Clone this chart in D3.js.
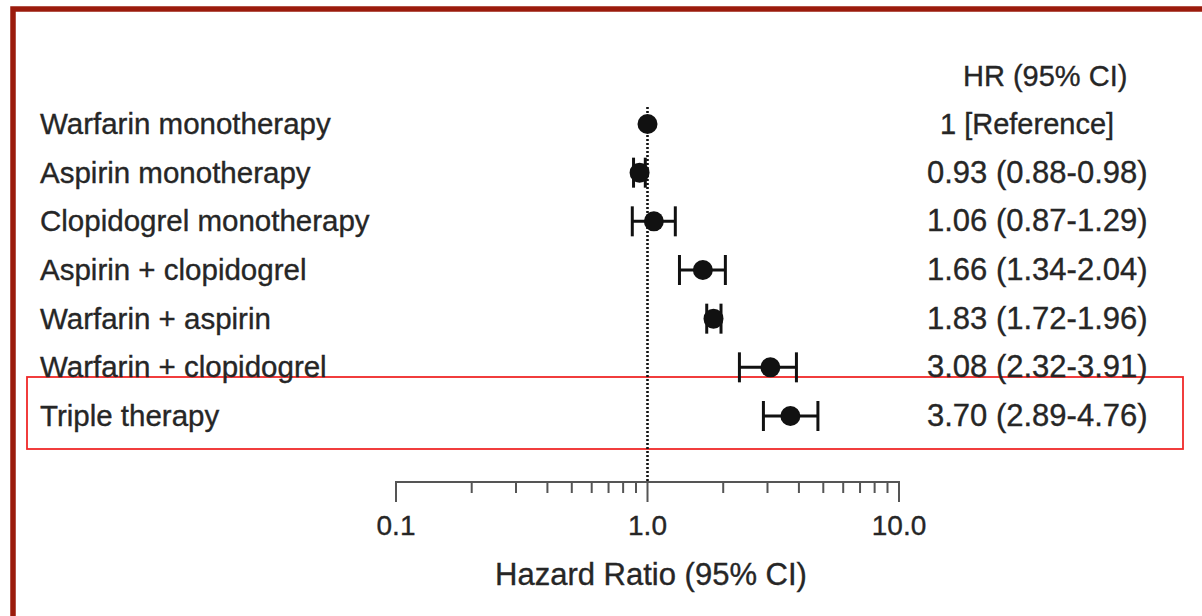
<!DOCTYPE html>
<html>
<head>
<meta charset="utf-8">
<script src="https://cdn.jsdelivr.net/npm/d3@7"></script>
<style>
  html, body { margin: 0; padding: 0; background: #fff; }
  svg text { font-family: "Liberation Sans", Arial, Helvetica, sans-serif; fill: #262626;
    stroke: #262626; stroke-width: 0.35px; }
</style>
</head>
<body>
<script>
// rows of the forest plot, top to bottom
var groups = ["Warfarin monotherapy", "Aspirin monotherapy", "Clopidogrel monotherapy",
  "Aspirin + clopidogrel", "Warfarin + aspirin", "Warfarin + clopidogrel", "Triple therapy"];
var hr    = [1, 0.93, 1.06, 1.66, 1.83, 3.08, 3.70];
var lower = [null, 0.88, 0.87, 1.34, 1.72, 2.32, 2.89];
var upper = [null, 0.98, 1.29, 2.04, 1.96, 3.91, 4.76];
var hrText = ["1 [Reference]", "0.93 (0.88-0.98)", "1.06 (0.87-1.29)", "1.66 (1.34-2.04)",
  "1.83 (1.72-1.96)", "3.08 (2.32-3.91)", "3.70 (2.89-4.76)"];
var majorTicks = [0.1, 1, 10];
var tickLabels = ["0.1", "1.0", "10.0"];
var minorTicks = [0.2, 0.3, 0.4, 0.5, 0.6, 0.7, 0.8, 0.9, 2, 3, 4, 5, 6, 7, 8, 9];
var highlighted = "Triple therapy";

var W = 1202, H = 616;
var svg = d3.select("body").append("svg").attr("width", W).attr("height", H);

var rows = groups.map(function(g, i){
  return {label: g, hr: hr[i], lo: lower[i], hi: upper[i], txt: hrText[i]};
});

var x = d3.scaleLog().domain([0.1, 10]).range([396, 899]);
var y = d3.scalePoint().domain(groups).range([124, 416]);
var axisY = 482;

// frame (dark red, only top and left visible)
svg.append("rect").attr("x", 13).attr("y", 9).attr("width", W + 20).attr("height", H + 20)
  .attr("fill", "none").attr("stroke", "#9b1b0c").attr("stroke-width", 5.5);

// highlight box around the last row
svg.append("rect")
  .attr("x", 27).attr("y", y(highlighted) - 39)
  .attr("width", 1156).attr("height", 72)
  .attr("fill", "none").attr("stroke", "#f02828").attr("stroke-width", 1.8);

// dotted reference line at HR = 1
svg.append("line")
  .attr("x1", x(1)).attr("x2", x(1))
  .attr("y1", 107).attr("y2", axisY)
  .attr("stroke", "#111").attr("stroke-width", 2.6)
  .attr("stroke-dasharray", "2,2");

// axis
var axis = svg.append("g").attr("class", "axis");
axis.append("line").attr("x1", x(0.1)).attr("x2", x(10))
  .attr("y1", axisY).attr("y2", axisY)
  .attr("stroke", "#555").attr("stroke-width", 2);
axis.selectAll("line.minor").data(minorTicks).enter().append("line")
  .attr("class", "minor")
  .attr("x1", function(d){ return x(d); }).attr("x2", function(d){ return x(d); })
  .attr("y1", axisY).attr("y2", axisY + 11)
  .attr("stroke", "#555").attr("stroke-width", 2);
axis.selectAll("line.major").data(majorTicks).enter().append("line")
  .attr("class", "major")
  .attr("x1", function(d){ return x(d); }).attr("x2", function(d){ return x(d); })
  .attr("y1", axisY - 1).attr("y2", axisY + 20)
  .attr("stroke", "#555").attr("stroke-width", 2);
axis.selectAll("text").data(majorTicks).enter().append("text")
  .attr("x", function(d){ return x(d); })
  .attr("y", axisY + 53)
  .attr("text-anchor", "middle")
  .attr("font-size", 28)
  .text(function(d, i){ return tickLabels[i]; });

svg.append("text")
  .attr("x", 651).attr("y", 585)
  .attr("text-anchor", "middle")
  .attr("font-size", 31)
  .text("Hazard Ratio (95% CI)");

// left labels
svg.selectAll("text.label").data(rows).enter().append("text")
  .attr("class", "label")
  .attr("x", 40)
  .attr("y", function(d){ return y(d.label) + 10; })
  .attr("font-size", 29.5)
  .text(function(d){ return d.label; });

// right column
svg.append("text")
  .attr("x", 963).attr("y", 86)
  .attr("font-size", 29)
  .text("HR (95% CI)");
svg.selectAll("text.hr").data(rows).enter().append("text")
  .attr("class", "hr")
  .attr("x", function(d){ return d.lo == null ? 940 : 927; })
  .attr("y", function(d){ return y(d.label) + 10; })
  .attr("font-size", function(d){ return d.lo == null ? 29 : 31; })
  .text(function(d){ return d.txt; });

// CI bars
var ci = svg.selectAll("g.ci").data(rows.filter(function(d){ return d.lo != null; }))
  .enter().append("g").attr("class", "ci");
ci.append("line")
  .attr("x1", function(d){ return x(d.lo); }).attr("x2", function(d){ return x(d.hi); })
  .attr("y1", function(d){ return y(d.label); }).attr("y2", function(d){ return y(d.label); })
  .attr("stroke", "#111").attr("stroke-width", 3);
ci.selectAll("line.cap").data(function(d){
    return [{v: d.lo, r: d.label}, {v: d.hi, r: d.label}];
  }).enter().append("line")
  .attr("class", "cap")
  .attr("x1", function(d){ return x(d.v); }).attr("x2", function(d){ return x(d.v); })
  .attr("y1", function(d){ return y(d.r) - 15; }).attr("y2", function(d){ return y(d.r) + 15; })
  .attr("stroke", "#111").attr("stroke-width", 3);

// point estimates
svg.selectAll("circle.pt").data(rows).enter().append("circle")
  .attr("class", "pt")
  .attr("cx", function(d){ return x(d.hr); })
  .attr("cy", function(d){ return y(d.label); })
  .attr("r", 10)
  .attr("fill", "#111");
</script>
</body>
</html>
